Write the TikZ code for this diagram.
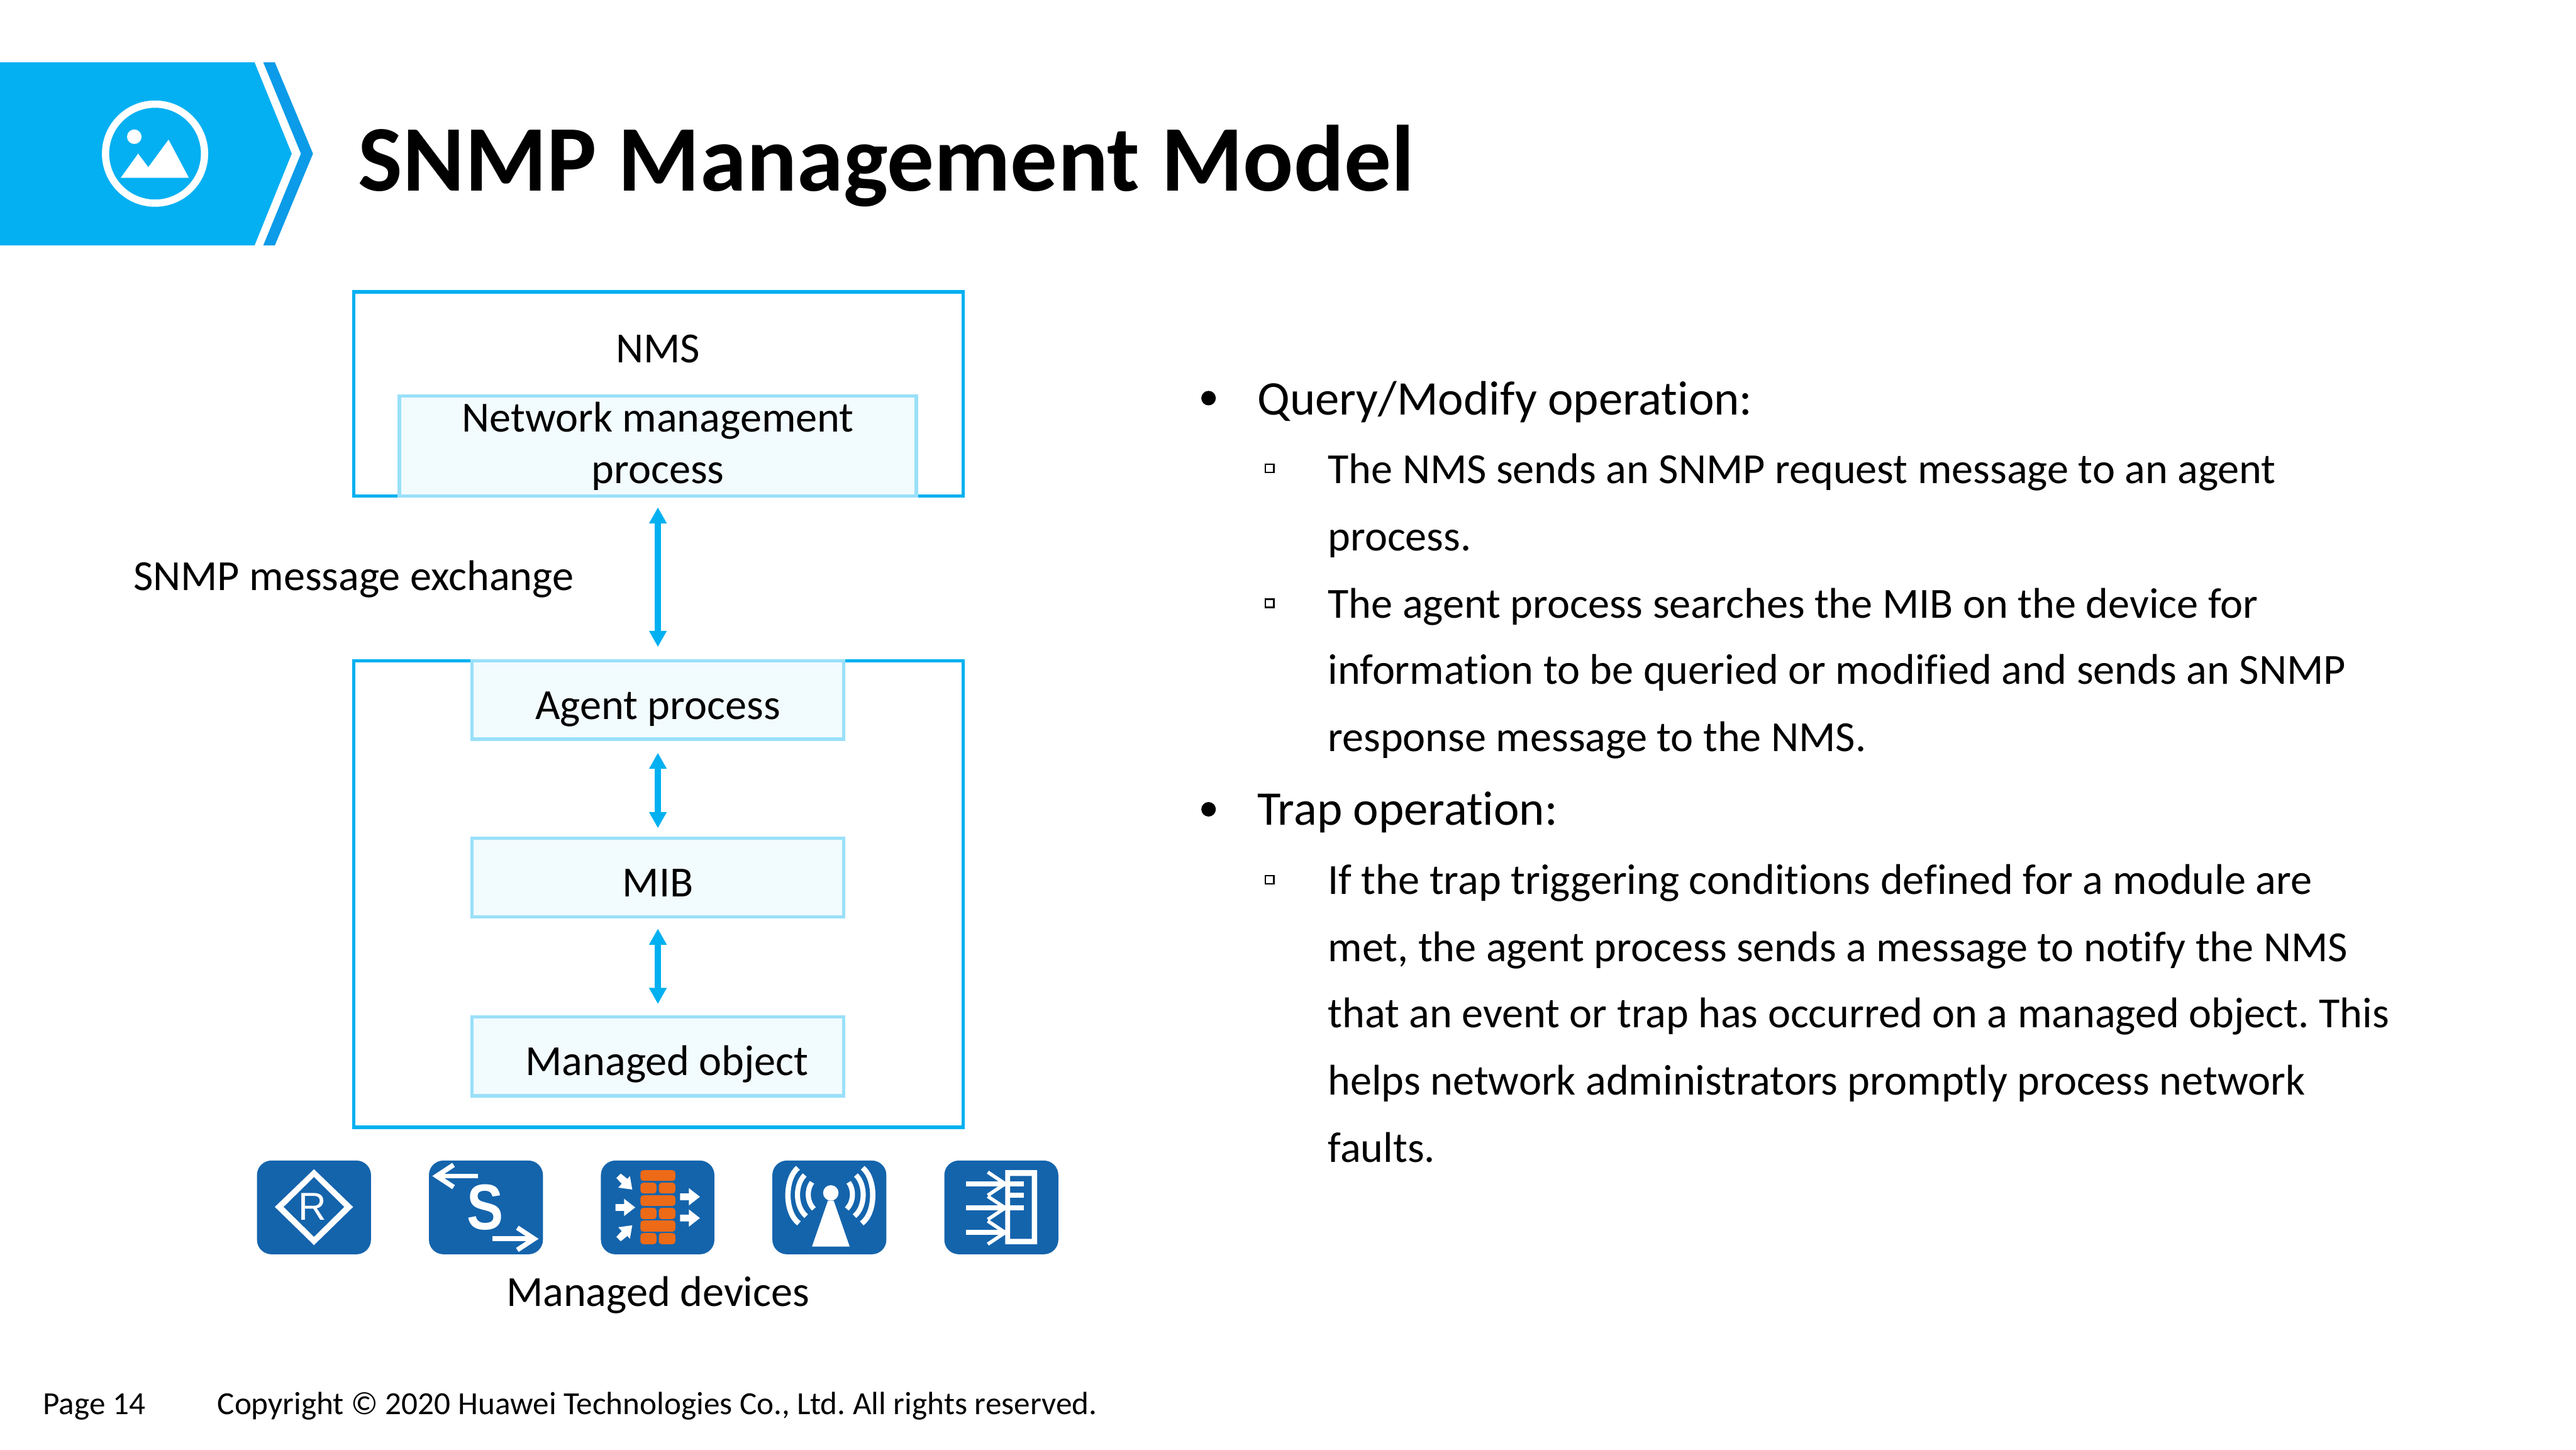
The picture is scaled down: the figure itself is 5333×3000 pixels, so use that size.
\documentclass[tikz,border=0pt]{standalone}
\usepackage{fontspec}
\setmainfont{Carlito}[Ligatures=NoCommon]
\newfontfamily\iconfont{Liberation Sans}
\usetikzlibrary{arrows.meta}
\definecolor{bannerblue}{HTML}{04B0F2}
\definecolor{chevblue}{HTML}{0B9BE8}
\definecolor{boxline}{HTML}{00B0F0}
\definecolor{innerline}{HTML}{99E0F9}
\definecolor{innerfill}{HTML}{F2FBFE}
\definecolor{iconblue}{HTML}{1464AC}
\definecolor{brick}{HTML}{ED6A17}
\tikzset{
  outerbox/.style={draw=boxline,line width=1.26pt,fill=white},
  innerbox/.style={draw=innerline,line width=1.26pt,fill=innerfill,inner sep=0pt,outer sep=0pt,font=\fontsize{16}{19.3}\selectfont,align=center},
  onetext/.style={text height=14.2pt,text depth=0pt},
  link/.style={draw=boxline,line width=2.2pt,{Triangle[length=6pt,width=6.2pt]}-{Triangle[length=6pt,width=6.2pt]}},
  body/.style={anchor=base west,inner sep=0pt,font=\fontsize{16}{19}\selectfont},
  head/.style={anchor=base west,inner sep=0pt,font=\fontsize{18}{22}\selectfont},
  lab/.style={anchor=base,inner sep=0pt,font=\fontsize{16}{19}\selectfont},
  foot/.style={anchor=base west,inner sep=0pt,font=\fontsize{12}{14}\selectfont},
  devicon/.style={fill=iconblue,rounded corners=5.4pt},
  sqbullet/.style={draw=black,line width=0.55pt},
  iconline/.style={draw=white,line width=1.9pt},
}
\begin{document}
\frenchspacing
\begin{tikzpicture}[x=0.18pt,y=-0.18pt]
\useasboundingbox (0,0) rectangle (5333,3000);
% banner
\fill[bannerblue] (0,129) -- (527,129) -- (604,318) -- (527,508) -- (0,508) -- cycle;
\fill[chevblue] (545,129) -- (569,129) -- (648,318) -- (569,508) -- (545,508) -- (623,318) -- cycle;
\fill[white,even odd rule] (321,318) circle[radius=110] (321,318) circle[radius=95];
\fill[white] (278,283) circle[radius=15];
\fill[white] (250,368) -- (286,318) -- (307,346) -- (349,289) -- (391,368) -- cycle;
\node[anchor=base west,inner sep=0pt,font=\fontsize{35}{42}\selectfont\bfseries] (title) at (741,395) {SNMP Management Model};
% NMS
\node[outerbox,minimum width=1262*0.18pt,minimum height=423*0.18pt,inner sep=0pt] (nms) at (1363,815.5) {};
\node[lab] (nmslabel) at (1362,750) {NMS};
\node[innerbox,minimum width=1070*0.18pt,minimum height=207*0.18pt] (nmp) at (1362,923.5) {Network management\\process};
\node[outerbox,minimum width=1262*0.18pt,minimum height=965*0.18pt,inner sep=0pt] (agentbox) at (1363,1850.5) {};
\node[innerbox,onetext,minimum width=769*0.18pt,minimum height=162*0.18pt] (agent) at (1362,1449) {Agent process};
\node[innerbox,onetext,minimum width=769*0.18pt,minimum height=163*0.18pt] (mib) at (1362,1816.5) {MIB};
\node[innerbox,onetext,minimum width=769*0.18pt,minimum height=163*0.18pt] (mo) at (1362,2186.5) {\hspace*{6.8pt}Managed object};
\draw[link,shorten <=23*0.18pt,shorten >=29*0.18pt] (nmp.south) -- (agent.north);
\draw[link,shorten <=28*0.18pt,shorten >=21*0.18pt] (agent.south) -- (mib.north);
\draw[link,shorten <=24*0.18pt,shorten >=27*0.18pt] (mib.south) -- (mo.north);
\node[anchor=base west,inner sep=0pt,font=\fontsize{16}{19}\selectfont] (snmpex) at (275,1222) {SNMP message exchange};
% router
\fill[devicon] (532,2402) rectangle (768,2596);
\fill[white,even odd rule] (650,2420) -- (731,2498) -- (650,2577) -- (569,2498) -- cycle (650,2436) -- (713,2498) -- (650,2560) -- (587,2498) -- cycle;
\node[inner sep=0pt,text=white,font=\iconfont\fontsize{14.5}{16}\selectfont] (rlabel) at (647,2497) {R};
% switch
\fill[devicon] (888,2402) rectangle (1124,2596);
\draw[iconline,line width=1.8pt] (990,2434) -- (905,2434);
\draw[iconline,line width=1.8pt] (939,2411) -- (904,2434) -- (939,2457);
\draw[iconline,line width=1.8pt] (1020,2564) -- (1105,2564);
\draw[iconline,line width=1.8pt] (1071,2541) -- (1106,2564) -- (1071,2587);
\node[inner sep=0pt,text=white,font=\iconfont\bfseries\fontsize{24}{26}\selectfont] (slabel) at (1005,2499) {\scalebox{0.85}[1]{S}};
% firewall
\fill[devicon] (1244,2402) rectangle (1479,2596);
\foreach \a/\b in {2422/2444,2474/2496,2526/2549}{\fill[brick,rounded corners=1pt] (1326,\a) rectangle (1398,\b);}
\foreach \a/\b in {2448/2470,2500/2523,2552/2575}{\fill[brick,rounded corners=1pt] (1326,\a) rectangle (1359,\b);\fill[brick,rounded corners=1pt] (1364,\a) rectangle (1398,\b);}
\foreach \c in {2477,2521}{\fill[white] (1408,\c-7) -- (1426,\c-7) -- (1426,\c-18) -- (1449,\c) -- (1426,\c+18) -- (1426,\c+7) -- (1408,\c+7) -- cycle;}
\fill[white] (1274,2492) -- (1292,2492) -- (1292,2481) -- (1315,2499) -- (1292,2517) -- (1292,2506) -- (1274,2506) -- cycle;
\fill[white] (1276,2438) -- (1285,2429) -- (1299,2440) -- (1304,2434) -- (1309,2462) -- (1280,2458) -- (1287,2450) -- cycle;
\fill[white] (1276,2560) -- (1285,2569) -- (1299,2558) -- (1304,2564) -- (1309,2536) -- (1280,2540) -- (1287,2548) -- cycle;
% AP
\fill[devicon] (1599,2402) rectangle (1835,2596);
\fill[white] (1681,2580) -- (1759,2580) -- (1726,2485) -- (1714,2485) -- cycle;
\fill[white] (1720,2469) circle[radius=16];
\foreach \s in {-1,1}{
  \draw[white,line width=2pt] ({1719+\s*67},2417) .. controls ({1719+\s*95},2440) and ({1719+\s*95},2510) .. ({1719+\s*65},2532);
  \draw[white,line width=1.9pt] ({1719+\s*53},2432) .. controls ({1719+\s*73.5},2452) and ({1719+\s*73.5},2497) .. ({1719+\s*50},2517);
  \draw[white,line width=1.9pt] ({1719+\s*38},2447) .. controls ({1719+\s*49},2462) and ({1719+\s*49},2487) .. ({1719+\s*34},2502);
}
% AC
\fill[devicon] (1955,2402) rectangle (2191,2596);
\fill[white,even odd rule] (2081,2422) rectangle (2147,2575) (2091,2434) rectangle (2136,2564);
\draw[iconline] (2000,2450) -- (2119,2450);
\draw[iconline] (2091,2474) -- (2119,2474);
\draw[iconline] (2000,2500) -- (2119,2500);
\draw[iconline] (2000,2551) -- (2085,2551);
\foreach \c in {2450,2500,2551}{\draw[white,line width=1.3pt] (2045,\c-24) -- (2081,\c) -- (2045,\c+24);}
\node[lab] (devices) at (1362,2704) {Managed devices};
% right text
\fill[black] (2502,824) circle[radius=15];
\node[head] (q) at (2602,859) {Query/Modify operation:};
\draw[sqbullet] (2620,961) rectangle (2637,978);
\node[body] (l1) at (2748,1001) {The NMS sends an SNMP request message to an agent};
\node[body] (l2) at (2748,1140) {process.};
\draw[sqbullet] (2620,1240) rectangle (2637,1257);
\node[body] (l3) at (2748,1279) {The agent process searches the MIB on the device for};
\node[body] (l4) at (2748,1416) {information to be queried or modified and sends an SNMP};
\node[body] (l5) at (2748,1555) {response message to the NMS.};
\fill[black] (2502,1675) circle[radius=15];
\node[head] (t) at (2602,1708) {Trap operation:};
\draw[sqbullet] (2620,1812) rectangle (2637,1829);
\node[body] (l6) at (2748,1851) {If the trap triggering conditions defined for a module are};
\node[body] (l7) at (2748,1990) {met, the agent process sends a message to notify the NMS};
\node[body] (l8) at (2748,2127) {that an event or trap has occurred on a managed object. This};
\node[body] (l9) at (2748,2266) {helps network administrators promptly process network};
\node[body] (l10) at (2748,2405) {faults.};
% footer
\node[foot] (page) at (88,2927) {Page 14};
\node[foot] (copy) at (449,2927) {Copyright © 2020 Huawei Technologies Co., Ltd. All rights reserved.};
\end{tikzpicture}
\end{document}
